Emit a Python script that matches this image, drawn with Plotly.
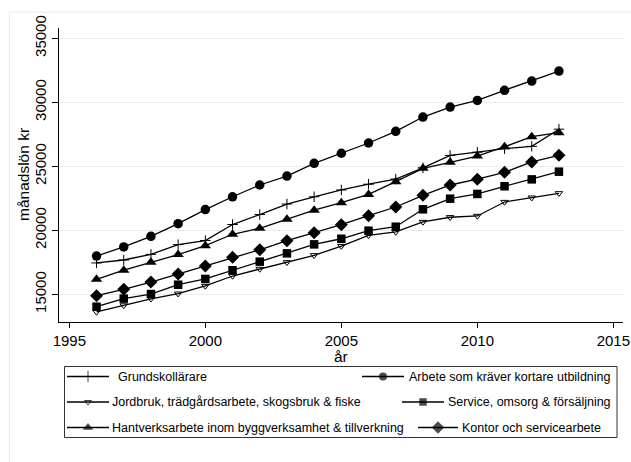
import plotly.graph_objects as go

# Monthly wage (kr) by occupational group, 1996-2013
years = list(range(1996, 2014))

grundskollarare = [17450, 17680, 18120, 18880, 19200, 20450, 21230, 22050, 22620,
                   23150, 23600, 24000, 24880, 25850, 26100, 26380, 26560, 27900]
kortare_utbildning = [17990, 18700, 19530, 20520, 21620, 22620, 23540, 24240, 25230,
                      26020, 26820, 27730, 28850, 29630, 30150, 30940, 31660, 32440]
jordbruk = [13620, 14130, 14650, 15050, 15650, 16430, 16980, 17500, 18050,
            18770, 19610, 19870, 20650, 21020, 21120, 22210, 22550, 22890]
service = [14030, 14660, 15020, 15750, 16200, 16880, 17550, 18200, 18900,
           19340, 19970, 20280, 21640, 22470, 22840, 23440, 23980, 24580]
hantverk = [16170, 16880, 17500, 18100, 18800, 19690, 20160, 20860, 21570,
            22160, 22800, 23800, 24840, 25310, 25800, 26530, 27310, 27630]
kontor = [14890, 15390, 15960, 16590, 17210, 17890, 18480, 19190, 19810,
          20440, 21140, 21820, 22730, 23540, 23990, 24530, 25340, 25860]

labels = [
    "Grundskollärare",
    "Arbete som kräver kortare utbildning",
    "Jordbruk, trädgårdsarbete, skogsbruk & fiske",
    "Service, omsorg & försäljning",
    "Hantverksarbete inom byggverksamhet & tillverkning",
    "Kontor och servicearbete",
]
series = [grundskollarare, kortare_utbildning, jordbruk, service, hantverk, kontor]

x_ticks = [1995, 2000, 2005, 2010, 2015]
y_ticks = [15000, 20000, 25000, 30000, 35000]
y_tick_text = ["15000", "20000", "25000", "30000", "35000"]

# ---- styling / layout constants -------------------------------------------
W, H = 631, 462
FONT = "Liberation Sans, Arial, sans-serif"
BLACK = "#000000"
GRID = "#e6edef"

# marker style per series: (symbol, size in plot, size in key, line width)
styles = [
    ("cross-thin-open", 7.5, 8, 1.0),
    ("circle", 9.5, 8, 0),
    ("triangle-down-open", 6.5, 6, 1.0),
    ("square", 8.5, 7.5, 0),
    ("triangle-up", 10, 9, 0),
    ("diamond", 10, 9.5, 0),
]

# plot area in pixels (left, right, top, bottom)
PL, PR, PT, PB = 59, 623, 28, 322

# legend: key line start/end, text start, row centre (pixels)
legend_spec = [
    (67, 109, 116, 376.5),
    (362, 404, 407, 376.5),
    (67, 109, 110, 402),
    (402, 444, 446, 402),
    (67, 109, 110, 427.5),
    (418, 458, 460, 427.5),
]
LEG_BOX = (64.5, 617, 366.5, 437.5)


def px(x):
    return x / W


def py(y):
    return 1 - y / H


fig = go.Figure()

for vals, lab, (sym, size, _, lw) in zip(series, labels, styles):
    fig.add_trace(go.Scatter(
        x=years, y=vals, name=lab, mode="lines+markers",
        line=dict(color=BLACK, width=1.3),
        marker=dict(symbol=sym, size=size, color=BLACK,
                    line=dict(color=BLACK, width=lw)),
        showlegend=False, hoverinfo="skip",
    ))

# legend keys drawn on a full-figure pixel axis
for lab, (sym, _, ksize, lw), (x0, x1, tx, ry) in zip(labels, styles, legend_spec):
    xm = (x0 + x1) / 2
    fig.add_trace(go.Scatter(
        x=[x0, xm, x1], y=[ry, ry, ry], mode="lines+markers",
        xaxis="x2", yaxis="y2",
        line=dict(color=BLACK, width=1.3),
        marker=dict(symbol=sym, size=[0, ksize, 0], color=BLACK,
                    line=dict(color=BLACK, width=lw)),
        showlegend=False, hoverinfo="skip",
    ))
    fig.add_annotation(
        x=px(tx), y=py(ry), xref="paper", yref="paper",
        text=lab, showarrow=False, xanchor="left", yanchor="middle",
        font=dict(family=FONT, size=12.5, color=BLACK),
    )

shapes = [
    # legend frame
    dict(type="rect", xref="paper", yref="paper",
         x0=px(LEG_BOX[0]), x1=px(LEG_BOX[1]), y0=py(LEG_BOX[3]), y1=py(LEG_BOX[2]),
         line=dict(color="#333333", width=1)),
    # outer graph region frame
    dict(type="line", xref="paper", yref="paper",
         x0=px(9.5), x1=1.0, y0=py(12), y1=py(12),
         line=dict(color=GRID, width=1.2)),
    dict(type="line", xref="paper", yref="paper",
         x0=px(9.5), x1=px(9.5), y0=0, y1=py(12),
         line=dict(color=GRID, width=1.2)),
]

axis_font = dict(family=FONT, size=15, color=BLACK)

fig.update_layout(
    width=W, height=H,
    margin=dict(l=0, r=0, t=0, b=0),
    paper_bgcolor="white", plot_bgcolor="rgba(0,0,0,0)",
    shapes=shapes,
    xaxis=dict(
        domain=[px(PL), px(PR)], range=[1994.62, 2015.355],
        tickvals=x_ticks, ticktext=[str(v) for v in x_ticks],
        ticks="outside", ticklen=5, tickwidth=1, tickcolor=BLACK,
        showline=True, linecolor=BLACK, linewidth=1,
        showgrid=False, zeroline=False, tickfont=axis_font, automargin=False,
        anchor="y",
    ),
    yaxis=dict(
        domain=[py(PB), py(PT)], range=[12836, 35805],
        tickvals=y_ticks, ticktext=y_tick_text, tickangle=-90,
        ticks="outside", ticklen=6, tickwidth=1, tickcolor=BLACK,
        showline=True, linecolor=BLACK, linewidth=1,
        showgrid=True, gridcolor=GRID, gridwidth=1.2,
        zeroline=False, tickfont=axis_font, automargin=False,
        anchor="x",
    ),
    xaxis2=dict(domain=[0, 1], range=[0, W], visible=False, anchor="y2",
                fixedrange=True),
    yaxis2=dict(domain=[0, 1], range=[H, 0], visible=False, anchor="x2",
                fixedrange=True),
    showlegend=False,
)

# axis titles
fig.add_annotation(x=px(23), y=py((PT + PB) / 2), xref="paper", yref="paper",
                   text="månadslön kr", textangle=-90, showarrow=False,
                   xanchor="center", yanchor="middle",
                   font=dict(family=FONT, size=15.5, color=BLACK))
fig.add_annotation(x=px((PL + PR) / 2), y=py(356), xref="paper", yref="paper",
                   text="år", showarrow=False, xanchor="center", yanchor="middle",
                   font=dict(family=FONT, size=15.5, color=BLACK))

fig.write_html("out.html")
